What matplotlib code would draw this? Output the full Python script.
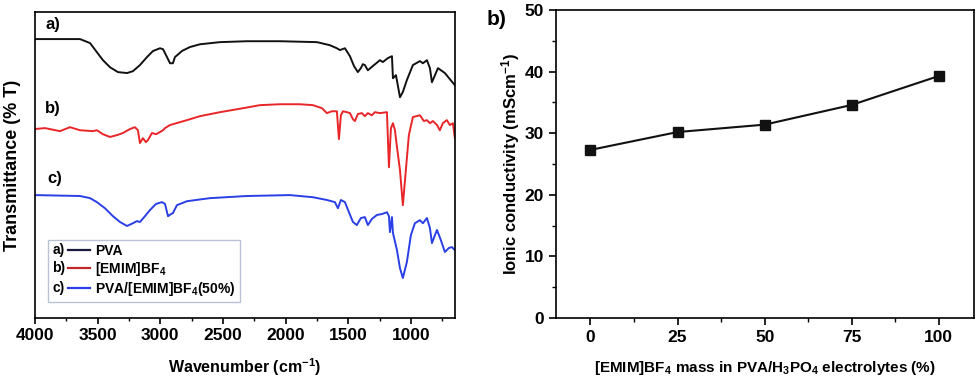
import matplotlib
matplotlib.use("Agg")
import matplotlib.pyplot as plt
from matplotlib.legend_handler import HandlerBase
from matplotlib.lines import Line2D
from matplotlib.text import Text
from matplotlib.ticker import MultipleLocator

plt.rcParams['font.family'] = ['Liberation Sans', 'DejaVu Sans']
plt.rcParams['font.weight'] = 'bold'
plt.rcParams['mathtext.fontset'] = 'custom'
plt.rcParams['mathtext.rm'] = 'Liberation Sans:bold'
plt.rcParams['mathtext.bf'] = 'Liberation Sans:bold'
plt.rcParams['mathtext.default'] = 'bf'

# FTIR spectra (wavenumber cm-1, transmittance with vertical offset)
pva_wn = [4000, 3801, 3641, 3561, 3506, 3458, 3402, 3338, 3266, 3219, 3163, 3107, 3059,
          3003, 2979, 2947, 2923, 2900, 2884, 2828, 2764, 2684, 2525, 2310, 2046, 1751,
          1648, 1592, 1568, 1528, 1488, 1456, 1425, 1401, 1385, 1369, 1345, 1305, 1249,
          1225, 1185, 1153, 1145, 1121, 1105, 1089, 1066, 1034, 986, 930, 906, 874, 850,
          834, 810, 786, 731, 651]
pva_t = [91.2, 91.2, 91.2, 89.9, 86.9, 84.3, 82.0, 80.4, 80.1, 80.7, 82.7, 85.3, 87.3,
         88.2, 87.9, 85.3, 83.3, 83.3, 85.3, 87.3, 88.6, 89.5, 90.2, 90.5, 90.5, 90.2,
         89.2, 88.2, 87.6, 88.2, 85.6, 82.4, 80.4, 81.7, 83.0, 82.7, 81.0, 82.4, 84.3,
         83.7, 85.0, 85.6, 78.4, 79.4, 75.8, 72.2, 73.9, 77.8, 82.7, 84.0, 83.3, 84.3, 81.7,
         77.1, 79.4, 81.7, 80.1, 76.1]

il_wn = [4000, 3920, 3801, 3721, 3641, 3538, 3506, 3458, 3402, 3346, 3298, 3242, 3203,
         3179, 3163, 3139, 3115, 3099, 3067, 3035, 3003, 2979, 2963, 2923, 2788, 2684,
         2525, 2341, 2206, 2046, 1887, 1783, 1711, 1672, 1632, 1592, 1576, 1560, 1544,
         1512, 1488, 1464, 1448, 1425, 1393, 1369, 1345, 1313, 1289, 1249, 1193, 1177,
         1161, 1145, 1129, 1113, 1089, 1066, 1042, 1018, 986, 930, 898, 874, 850, 826,
         794, 771, 747, 715, 691, 667, 651]
il_t = [61.8, 62.1, 61.1, 62.4, 61.4, 61.1, 61.4, 60.1, 59.2, 59.8, 60.5, 61.8, 62.4,
        61.4, 57.2, 58.8, 57.5, 58.2, 60.5, 60.1, 60.8, 61.4, 62.1, 63.1, 64.7, 66.0,
        67.3, 68.6, 69.6, 69.9, 69.9, 69.6, 68.6, 67.0, 67.6, 67.6, 58.5, 66.3, 67.6,
        67.3, 67.0, 65.0, 64.4, 66.7, 67.0, 66.0, 67.0, 66.3, 67.3, 67.0, 67.3, 49.3,
        62.1, 63.7, 61.4, 55.9, 48.4, 36.9, 48.4, 59.8, 65.7, 66.3, 64.4, 64.7, 63.7, 64.4,
        63.1, 61.4, 63.7, 64.7, 63.1, 63.7, 58.8]

blend_wn = [4000, 3641, 3561, 3506, 3442, 3378, 3322, 3266, 3219, 3187, 3163, 3123, 3083,
            3035, 2987, 2963, 2939, 2915, 2900, 2868, 2788, 2605, 2310, 1967, 1783, 1672,
            1608, 1584, 1560, 1528, 1496, 1464, 1433, 1401, 1369, 1345, 1313, 1273, 1233,
            1193, 1177, 1169, 1153, 1145, 1113, 1089, 1066, 1034, 1002, 970, 930, 906, 874,
            850, 834, 810, 794, 763, 731, 699, 675, 651]
blend_t = [40.2, 39.9, 39.2, 37.9, 35.9, 33.3, 31.4, 30.1, 31.0, 31.7, 31.4, 33.3, 35.3,
           37.3, 37.9, 37.3, 33.3, 34.0, 34.3, 36.9, 38.2, 39.2, 39.9, 40.2, 39.5, 38.6,
           37.9, 35.9, 38.6, 37.9, 34.6, 31.4, 30.4, 32.7, 33.0, 30.4, 32.4, 33.7, 34.0,
           34.6, 33.3, 28.1, 33.0, 27.8, 22.2, 16.3, 13.1, 18.3, 27.1, 31.0, 32.0, 31.0, 32.7,
           29.4, 24.5, 27.1, 28.8, 25.5, 21.6, 22.9, 23.2, 22.2]

# ionic conductivity
il_mass = [0, 25, 50, 75, 100]
conductivity = [27.3, 30.2, 31.4, 34.6, 39.3]

black = "#111111"
red = "#e8262a"
blue = "#2a3fe6"


class PrefixHandler(HandlerBase):
    def create_artists(self, legend, orig_handle, xdescent, ydescent, width, height,
                       fontsize, trans):
        prefix, color = orig_handle
        y = height / 2 - ydescent
        t = Text(-xdescent, y, prefix, ha='left', va='center', fontsize=fontsize,
                 fontweight='bold', transform=trans)
        x0 = -xdescent + fontsize * 1.15
        ln = Line2D([x0, width - xdescent], [y, y], color=color, lw=1.6, transform=trans)
        return [t, ln]


fig = plt.figure(figsize=(9.8, 3.8), dpi=100)
ax1 = fig.add_axes([0.0357, 0.163, 0.4286, 0.805])
ax2 = fig.add_axes([0.567, 0.163, 0.4265, 0.8105])

for wn, t, c in [(pva_wn, pva_t, black), (il_wn, il_t, red), (blend_wn, blend_t, blue)]:
    ax1.plot(wn, t, color=c, lw=1.4, solid_joinstyle='round')
ax1.set_xlim(4000, 650)
ax1.set_ylim(0, 100)
ax1.set_yticks([])
ax1.xaxis.set_major_locator(MultipleLocator(500))
ax1.xaxis.set_minor_locator(MultipleLocator(250))
ax1.tick_params(axis='x', which='major', direction='out', length=4, width=1.2, labelsize=12.5)
ax1.tick_params(axis='x', which='minor', direction='out', length=2.5, width=1.0)
ax1.set_xlabel("Wavenumber (cm$^{-1}$)", fontsize=11.5, fontweight='bold', labelpad=9)
ax1.set_ylabel("Transmittance (% T)", fontsize=13, fontweight='bold', labelpad=10)
for s in ax1.spines.values():
    s.set_linewidth(1.2)

ax1.text(3920, 96, "a)", fontsize=12, fontweight='bold', va='center')
ax1.text(3920, 68.6, "b)", fontsize=12, fontweight='bold', va='center')
ax1.text(3900, 45.7, "c)", fontsize=12, fontweight='bold', va='center')

handles = [("a)", "#1a1a3a"), ("b)", "#c0282c"), ("c)", blue)]
labels = ["PVA", "[EMIM]BF$_4$", "PVA/[EMIM]BF$_4$(50%)"]
leg = ax1.legend(handles, labels, handler_map={tuple: PrefixHandler()},
                 loc='lower left', bbox_to_anchor=(0.031, 0.052), borderaxespad=0,
                 fontsize=10, handlelength=2.7, handletextpad=0.4, labelspacing=0.15,
                 borderpad=0.3, fancybox=False, framealpha=1)
leg.get_frame().set_edgecolor("#b8c4d6")
leg.get_frame().set_linewidth(1.0)
for t in leg.get_texts():
    t.set_fontweight('bold')

ax2.plot(il_mass, conductivity, color=black, lw=1.5, marker='s', markersize=7)
ax2.set_xlim(-10, 110)
ax2.set_ylim(0, 50)
ax2.set_xticks(il_mass)
ax2.xaxis.set_minor_locator(MultipleLocator(12.5))
ax2.yaxis.set_major_locator(MultipleLocator(10))
ax2.yaxis.set_minor_locator(MultipleLocator(5))
ax2.tick_params(which='major', direction='out', length=5, width=1.2, labelsize=12.5)
ax2.tick_params(which='minor', direction='out', length=3, width=1.0)
ax2.set_xlabel("[EMIM]BF$_4$ mass in PVA/H$_3$PO$_4$ electrolytes (%)", fontsize=11,
               fontweight='bold', labelpad=10)
ax2.set_ylabel("Ionic conductivity (mScm$^{-1}$)", fontsize=12, fontweight='bold', labelpad=2)
for s in ax2.spines.values():
    s.set_linewidth(1.2)
ax2.text(-0.165, 1.0, "b)", transform=ax2.transAxes, fontsize=15, fontweight='bold',
         va='top', ha='left')

fig.savefig("out.png", dpi=100)
